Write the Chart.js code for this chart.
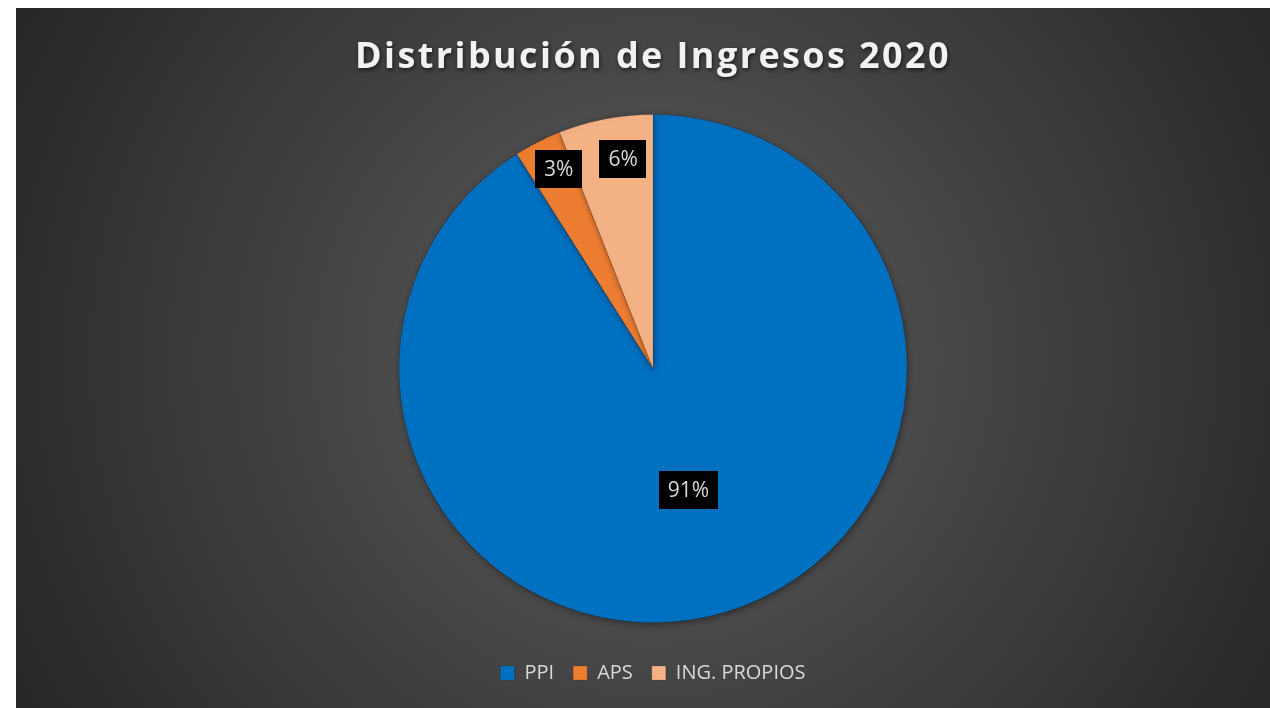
<!DOCTYPE html>
<html lang="es">
<head>
<meta charset="utf-8">
<title>Distribución de Ingresos 2020</title>
<script src="https://cdn.jsdelivr.net/npm/chart.js@4/dist/chart.umd.min.js"></script>
<style>
  html, body { margin: 0; padding: 0; background: #fff; overflow: hidden; }
  #wrap {
    position: absolute; left: 16px; top: 8px; width: 1274px; height: 700px;
    background: radial-gradient(circle farthest-corner at 50% 50%, #575757 0%, #4a4a4a 35%, #262626 100%);
  }
</style>
</head>
<body>
<div id="wrap"><canvas id="pieChart"></canvas></div>
<script>
const chartTitle = "Distribución de Ingresos 2020";
const categories = ["PPI", "APS", "ING. PROPIOS"];
const shares = [91, 3, 6];
const sliceColors = ["#0070c0", "#ed7d31", "#f4b183"];

// value box placement: fraction of the radius, and a small turn (degrees) off the slice's mid angle
const labelRadius = [0.5, 0.87, 0.835];
const labelTurn = [0, 1.7, 2.7];

const FONT = "'Open Sans', 'Noto Sans', sans-serif";

const titlePlugin = {
  id: "spacedTitle",
  afterDraw(chart) {
    const ctx = chart.ctx;
    ctx.save();
    ctx.font = "bold 36px " + FONT;
    ctx.letterSpacing = "2.4px";
    ctx.textAlign = "center";
    ctx.textBaseline = "alphabetic";
    ctx.fillStyle = "#f2f2f2";
    ctx.shadowColor = "rgba(0,0,0,0.6)";
    ctx.shadowBlur = 4;
    ctx.shadowOffsetX = 1;
    ctx.shadowOffsetY = 2;
    ctx.fillText(chartTitle, chart.width / 2, 60);
    ctx.restore();
  }
};

const pieShadow = {
  id: "pieShadow",
  beforeDatasetsDraw(chart) {
    const ctx = chart.ctx;
    ctx.save();
    ctx.shadowColor = "rgba(0,0,0,0.4)";
    ctx.shadowBlur = 6;
    ctx.shadowOffsetX = 1;
    ctx.shadowOffsetY = 2;
  },
  afterDatasetsDraw(chart) {
    chart.ctx.restore();
  }
};

const valueBoxes = {
  id: "valueBoxes",
  afterDatasetsDraw(chart) {
    const ctx = chart.ctx;
    const meta = chart.getDatasetMeta(0);
    ctx.save();
    ctx.font = "21px " + FONT;
    ctx.textAlign = "center";
    ctx.textBaseline = "middle";
    meta.data.forEach((arc, i) => {
      const p = arc.getProps(["x", "y", "startAngle", "endAngle", "outerRadius"], true);
      const mid = (p.startAngle + p.endAngle) / 2 + labelTurn[i] * Math.PI / 180;
      const r = p.outerRadius * labelRadius[i];
      const x = p.x + Math.cos(mid) * r;
      const y = p.y + Math.sin(mid) * r;
      const text = shares[i] + "%";
      const w = ctx.measureText(text).width + 18;
      const h = 38;
      ctx.fillStyle = "#000";
      ctx.fillRect(Math.round(x - w / 2), Math.round(y - h / 2), Math.round(w), h);
      ctx.fillStyle = "#d9d9d9";
      ctx.fillText(text, x, y + 1);
    });
    ctx.restore();
  }
};

new Chart(document.getElementById("pieChart"), {
  type: "pie",
  data: {
    labels: categories,
    datasets: [{
      data: shares,
      backgroundColor: sliceColors,
      borderColor: "rgba(0,0,0,0.12)",
      borderWidth: 1
    }]
  },
  options: {
    responsive: true,
    maintainAspectRatio: false,
    animation: false,
    layout: { padding: { top: 106, bottom: 15 } },
    plugins: {
      title: { display: false },
      tooltip: { enabled: false },
      legend: {
        position: "bottom",
        title: {
          display: true,
          text: " ",
          font: { size: 10, lineHeight: 1 },
          padding: { top: 0, bottom: 11 }
        },
        labels: {
          color: "#d9d9d9",
          font: { family: FONT, size: 20 },
          boxWidth: 14,
          boxHeight: 14,
          padding: 19
        }
      }
    }
  },
  plugins: [titlePlugin, pieShadow, valueBoxes]
});
</script>
</body>
</html>
